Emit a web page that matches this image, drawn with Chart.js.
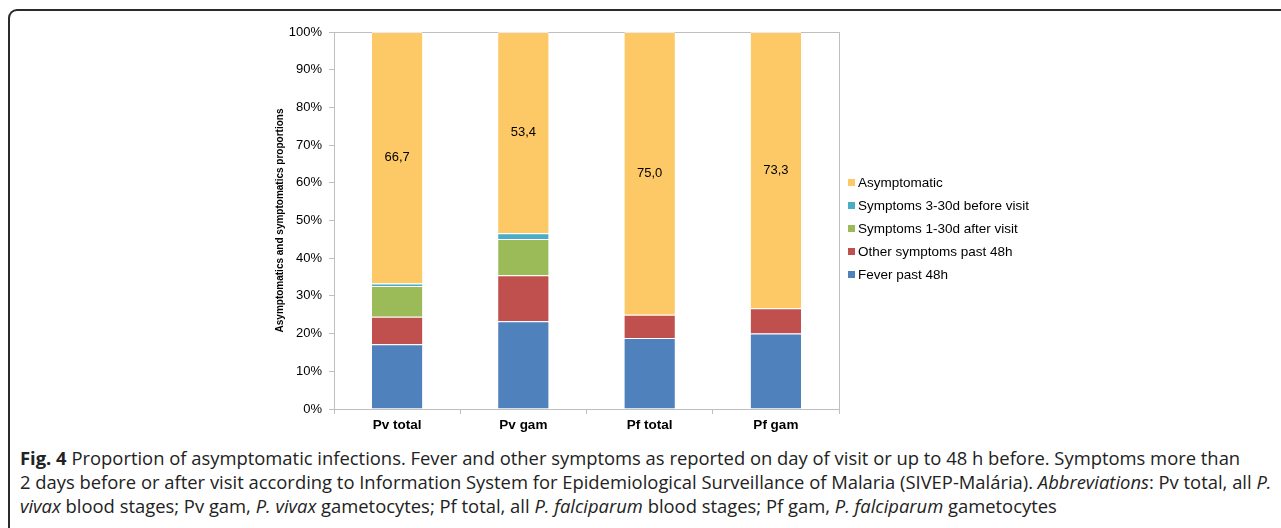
<!DOCTYPE html>
<html>
<head>
<meta charset="utf-8">
<script src="https://cdn.jsdelivr.net/npm/chart.js@4.4.0/dist/chart.umd.min.js"></script>
<style>
  html, body { margin: 0; padding: 0; background: #fff; }
  body { width: 1281px; height: 528px; position: relative; overflow: hidden; }
  .frame { position: absolute; left: 8px; top: 9px; width: 1290px; height: 540px; border: 2px solid #2b2b2b; border-radius: 9px; box-sizing: border-box; }
  #chartWrap { position: absolute; left: 0; top: 0; width: 1281px; height: 440px; }
  .legend { position: absolute; left: 848px; top: 175px; font: 13.5px "Liberation Sans", Arial, sans-serif; color: #000; }
  .legend div { height: 23px; line-height: 16px; white-space: nowrap; }
  .legend span.sw { display: inline-block; width: 7px; height: 7px; margin-right: 3px; vertical-align: 1px; }
  .caption { position: absolute; left: 20px; top: 446px; width: 1260px; font: 18.4px "Open Sans", sans-serif; line-height: 24px; color: #222; white-space: nowrap; }
  .caption b { font-weight: 700; }
</style>
</head>
<body>
<div class="frame"></div>
<div id="chartWrap"><canvas id="chart"></canvas></div>
<div class="legend" id="legend"></div>
<div class="caption">
  <b>Fig. 4</b> Proportion of asymptomatic infections. Fever and other symptoms as reported on day of visit or up to 48 h before. Symptoms more than<br>
  2 days before or after visit according to Information System for Epidemiological Surveillance of Malaria (SIVEP-Malária). <i>Abbreviations</i>: Pv total, all <i>P.</i><br>
  <i>vivax</i> blood stages; Pv gam, <i>P. vivax</i> gametocytes; Pf total, all <i>P. falciparum</i> blood stages; Pf gam, <i>P. falciparum</i> gametocytes
</div>
<script>
  const categories = ['Pv total', 'Pv gam', 'Pf total', 'Pf gam'];
  const fever = [17.2, 23.3, 18.8, 20.0];
  const otherSymptoms = [7.3, 12.2, 6.2, 6.7];
  const afterVisit = [8.1, 9.6, 0, 0];
  const beforeVisit = [0.7, 1.5, 0, 0];
  const asymptomatic = [66.7, 53.4, 75.0, 73.3];

  const seriesNames = ['Fever past 48h', 'Other symptoms past 48h', 'Symptoms 1-30d after visit', 'Symptoms 3-30d before visit', 'Asymptomatic'];
  const seriesColors = ['#4f81bd', '#c0504d', '#9bbb59', '#4bacc6', '#fdc966'];
  const seriesData = [fever, otherSymptoms, afterVisit, beforeVisit, asymptomatic];

  const FONT = '"Liberation Sans", Arial, sans-serif';

  // labels in the asymptomatic segment
  const segLabels = {
    id: 'segLabels',
    afterDatasetsDraw(chart) {
      const ctx = chart.ctx;
      const meta = chart.getDatasetMeta(4);
      ctx.save();
      ctx.font = '13px ' + FONT;
      ctx.fillStyle = '#000';
      ctx.textAlign = 'center';
      ctx.textBaseline = 'middle';
      meta.data.forEach((bar, i) => {
        const p = bar.getCenterPoint();
        ctx.fillText(asymptomatic[i].toFixed(1).replace('.', ','), p.x, p.y);
      });
      ctx.restore();
    }
  };

  // plot area frame
  const plotBorder = {
    id: 'plotBorder',
    beforeDatasetsDraw(chart) {
      const a = chart.chartArea, ctx = chart.ctx;
      ctx.save();
      ctx.strokeStyle = '#bfbfbf';
      ctx.lineWidth = 1;
      ctx.strokeRect(Math.round(a.left) + 0.5, Math.round(a.top) + 0.5, Math.round(a.right - a.left), Math.round(a.bottom - a.top));
      ctx.restore();
    }
  };

  new Chart(document.getElementById('chart'), {
    type: 'bar',
    data: {
      labels: categories,
      datasets: seriesData.map((d, i) => ({
        label: seriesNames[i], data: d, backgroundColor: seriesColors[i],
        borderColor: 'rgba(255,255,255,0.7)', borderWidth: { top: 1 }, borderSkipped: false,
        barPercentage: 0.4, categoryPercentage: 1
      }))
    },
    options: {
      responsive: true, maintainAspectRatio: false, animation: false,
      layout: { padding: { left: 274, top: 32, right: 442, bottom: 1 } },
      plugins: { legend: { display: false }, tooltip: { enabled: false } },
      scales: {
        x: {
          stacked: true,
          grid: { drawOnChartArea: false, drawTicks: true, tickLength: 5, color: '#bfbfbf' },
          border: { display: true, color: '#bfbfbf' },
          ticks: { color: '#000', font: { family: FONT, size: 13.5, weight: 'bold' }, padding: 3 },
          afterFit: s => { s.height = 30; }
        },
        y: {
          stacked: true, min: 0, max: 100,
          grid: { drawOnChartArea: false, drawTicks: true, tickLength: 5, color: '#bfbfbf' },
          border: { display: true, color: '#bfbfbf' },
          ticks: { stepSize: 10, color: '#000', font: { family: FONT, size: 13 }, padding: 7, callback: v => v + '%' },
          title: { display: true, text: 'Asymptomatics and symptomatics proportions', color: '#000', font: { family: FONT, size: 10, weight: 'bold' }, padding: { top: 0, bottom: 0 } },
          afterFit: s => { s.width = 60; }
        }
      }
    },
    plugins: [plotBorder, segLabels]
  });

  // legend, top item = last series
  const legend = document.getElementById('legend');
  for (let i = seriesNames.length - 1; i >= 0; i--) {
    const row = document.createElement('div');
    row.innerHTML = '<span class="sw" style="background:' + seriesColors[i] + '"></span>' + seriesNames[i];
    legend.appendChild(row);
  }
</script>
</body>
</html>
